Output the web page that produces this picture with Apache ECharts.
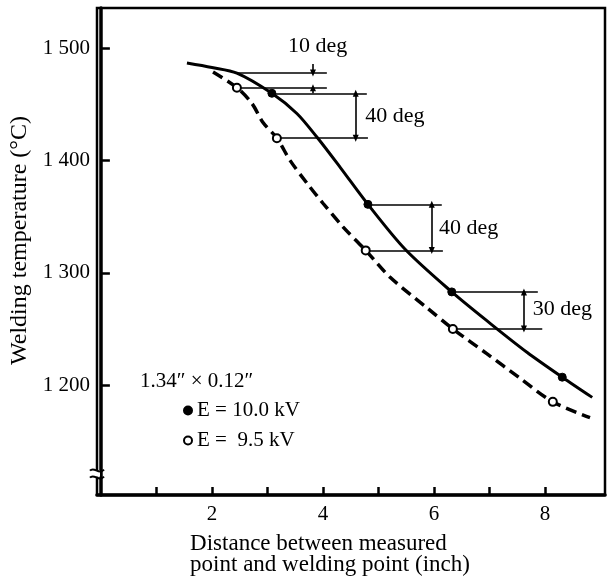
<!DOCTYPE html>
<html><head><meta charset="utf-8">
<script src="https://cdn.jsdelivr.net/npm/echarts@6/dist/echarts.min.js"></script>
<style>html,body{margin:0;padding:0;background:#fff}#c{width:608px;height:578px}</style>
</head><body><div id="c"></div>
<script>
const FONT = 'Liberation Serif';

// axis ticks / labels
const xTickValues = [1, 2, 3, 4, 5, 6, 7, 8];
const xLabelValues = [2, 4, 6, 8];
const yLabelValues = [1200, 1300, 1400, 1500];

// E = 10.0 kV curve (solid)
const highCurveX = [1.55, 2.0, 2.45, 3.08, 3.53, 3.89, 4.31, 4.81, 5.48, 6.32, 7.01, 7.68, 8.31, 8.85];
const highCurveY = [1487, 1483, 1478, 1460, 1442, 1421, 1394, 1361, 1321, 1283, 1255, 1229, 1207, 1189];
// E = 9.5 kV curve (dashed)
const lowCurveX = [2.02, 2.45, 2.72, 2.92, 3.17, 3.41, 3.71, 4.00, 4.36, 4.77, 5.21, 5.87, 6.34, 6.95, 7.55, 8.14, 8.81];
const lowCurveY = [1479, 1465, 1451, 1434, 1420, 1400, 1380, 1362, 1341, 1320, 1296, 1269, 1250, 1228, 1206, 1185, 1171];

// measured points
const highPointX = [3.08, 4.81, 6.32, 8.31];
const highPointY = [1460, 1361, 1283, 1207];
const lowPointX = [2.45, 3.17, 4.77, 6.34, 8.14];
const lowPointY = [1465, 1420, 1320, 1250, 1185];

// difference brackets
const bracketLabels = ['10 deg', '40 deg', '40 deg', '30 deg'];
const bracketArrowX = [3.82, 4.59, 5.96, 7.62];
const bracketTopY = [1478, 1460, 1361, 1283];
const bracketBottomY = [1465, 1420, 1320, 1250];
const bracketTopStartX = [2.45, 3.08, 4.81, 6.32];
const bracketTopEndX = [4.07, 4.79, 6.14, 7.87];
const bracketBottomStartX = [2.45, 3.17, 4.77, 6.34];
const bracketBottomEndX = [4.07, 4.81, 6.16, 7.95];
const labelX = [3.37, 4.76, 6.09, 7.78];
const labelY = [1502, 1440, 1340, 1268];

const legendNames = ['E = 10.0 kV', 'E =  9.5 kV'];
const specText = '1.34\u2033 \u00d7 0.12\u2033';
const xMin = -0.07, xMax = 9.08, yMin = 1102, yMax = 1536;
const breakValue = 1121;

const zip = (a, b) => a.map((v, i) => [v, b[i]]);

const markLines = [];
bracketLabels.forEach((lab, i) => {
  markLines.push([{coord: [bracketTopStartX[i], bracketTopY[i]], symbol: 'none'}, {coord: [bracketTopEndX[i], bracketTopY[i]], symbol: 'none'}]);
  markLines.push([{coord: [bracketBottomStartX[i], bracketBottomY[i]], symbol: 'none'}, {coord: [bracketBottomEndX[i], bracketBottomY[i]], symbol: 'none'}]);
  if (i === 0) {
    markLines.push([{coord: [bracketArrowX[i], bracketTopY[i] + 8], symbol: 'none'}, {coord: [bracketArrowX[i], bracketTopY[i]], symbol: 'triangle'}]);
    markLines.push([{coord: [bracketArrowX[i], bracketTopY[1]], symbol: 'none'}, {coord: [bracketArrowX[i], bracketBottomY[i]], symbol: 'triangle'}]);
  } else {
    markLines.push([{coord: [bracketArrowX[i], bracketTopY[i]], symbol: 'triangle'}, {coord: [bracketArrowX[i], bracketBottomY[i]], symbol: 'triangle'}]);
  }
});

const chart = echarts.init(document.getElementById('c'), null, {renderer: 'canvas'});
const txt = {fontFamily: FONT, color: '#000'};
chart.setOption({
  animation: false,
  backgroundColor: '#fff',
  title: [{
    text: specText, left: 140, top: 371, padding: 0,
    textStyle: Object.assign({fontSize: 21, fontWeight: 'normal'}, txt)
  }],
  legend: {
    data: legendNames, orient: 'vertical', left: 183, top: 400, padding: 0,
    itemWidth: 8, itemHeight: 8, itemGap: 9,
    textStyle: Object.assign({fontSize: 21}, txt)
  },
  grid: {left: 97, right: 3, top: 8, bottom: 83, containLabel: false, outerBoundsMode: 'none',
    show: true, borderColor: '#000', borderWidth: 2.5, backgroundColor: 'transparent'},
  xAxis: {
    type: 'value', min: xMin, max: xMax,
    axisLine: {show: true, lineStyle: {color: '#000', width: 3.5}},
    axisTick: {show: true, inside: true, length: 8, customValues: xTickValues, lineStyle: {color: '#000', width: 2.5}},
    axisLabel: Object.assign({customValues: xLabelValues, margin: 9, fontSize: 21}, txt),
    splitLine: {show: false},
    name: '{a|Distance between measured}\n{a|point and welding point (inch)}',
    nameLocation: 'middle', nameGap: 38,
    nameTextStyle: {padding: [0, 42, 0, 0], rich: {a: Object.assign({fontSize: 23, align: 'left', lineHeight: 21}, txt)}}
  },
  yAxis: {
    type: 'value', min: yMin, max: yMax,
    axisLine: {show: true, lineStyle: {color: '#000', width: 3.5}},
    axisTick: {show: true, inside: true, length: 9, customValues: yLabelValues, lineStyle: {color: '#000', width: 2.5}},
    axisLabel: Object.assign({
      customValues: yLabelValues, margin: 7, fontSize: 21,
      formatter: v => { const s = String(v); return s.length === 4 ? s[0] + ' ' + s.slice(1) : s; }
    }, txt),
    splitLine: {show: false},
    name: 'Welding temperature (\u00b0C)', nameLocation: 'middle', nameGap: 47,
    nameTextStyle: Object.assign({fontSize: 24, padding: [0, 0, 0, 22]}, txt)
  },
  series: [
    {
      name: 'curve 10.0 kV', type: 'line', data: zip(highCurveX, highCurveY),
      smooth: 0.3, showSymbol: false, silent: true, z: 3,
      lineStyle: {color: '#000', width: 3}
    },
    {
      name: 'curve 9.5 kV', type: 'line', data: zip(lowCurveX, lowCurveY),
      smooth: 0.3, showSymbol: false, silent: true, z: 3,
      lineStyle: {color: '#000', width: 3.5, type: [11, 6]}
    },
    {
      name: legendNames[0], type: 'scatter', data: zip(highPointX, highPointY),
      symbol: 'circle', symbolSize: 8, z: 5,
      itemStyle: {color: '#000', borderColor: '#000', borderWidth: 1, opacity: 1}
    },
    {
      name: legendNames[1], type: 'scatter', data: zip(lowPointX, lowPointY),
      symbol: 'circle', symbolSize: 8, z: 5,
      itemStyle: {color: '#fff', borderColor: '#000', borderWidth: 2, opacity: 1}
    },
    {
      name: 'annotations', type: 'scatter', symbolSize: 0, silent: true, z: 4,
      data: labelX.map((x, i) => ({value: [x, labelY[i]], name: bracketLabels[i]})),
      itemStyle: {opacity: 1},
      label: Object.assign({show: true, position: 'right', distance: 0, fontSize: 22, formatter: p => p.name}, txt),
      markLine: {
        silent: true, animation: false, symbolSize: [6, 7],
        label: {show: false},
        lineStyle: {color: '#000', width: 1.6, type: 'solid', opacity: 1},
        data: markLines
      }
    },
    {
      name: 'axis break', type: 'custom', coordinateSystem: 'cartesian2d', clip: false, silent: true, z: 6,
      data: [[xMin, breakValue]],
      renderItem: (params, api) => {
        const p = api.coord([api.value(0), api.value(1)]);
        return {
          type: 'group', x: p[0], y: p[1],
          children: [
            {type: 'rect', shape: {x: -3, y: -3, width: 6, height: 6}, style: {fill: '#fff'}},
            {type: 'bezierCurve', shape: {x1: -7, y1: -3, cpx1: -3, cpy1: -8, cpx2: 2, cpy2: 2, x2: 7, y2: -4}, style: {stroke: '#000', lineWidth: 2, fill: null}},
            {type: 'bezierCurve', shape: {x1: -7, y1: 4, cpx1: -3, cpy1: -1, cpx2: 2, cpy2: 9, x2: 7, y2: 3}, style: {stroke: '#000', lineWidth: 2, fill: null}}
          ]
        };
      }
    }
  ]
});
</script></body></html>
